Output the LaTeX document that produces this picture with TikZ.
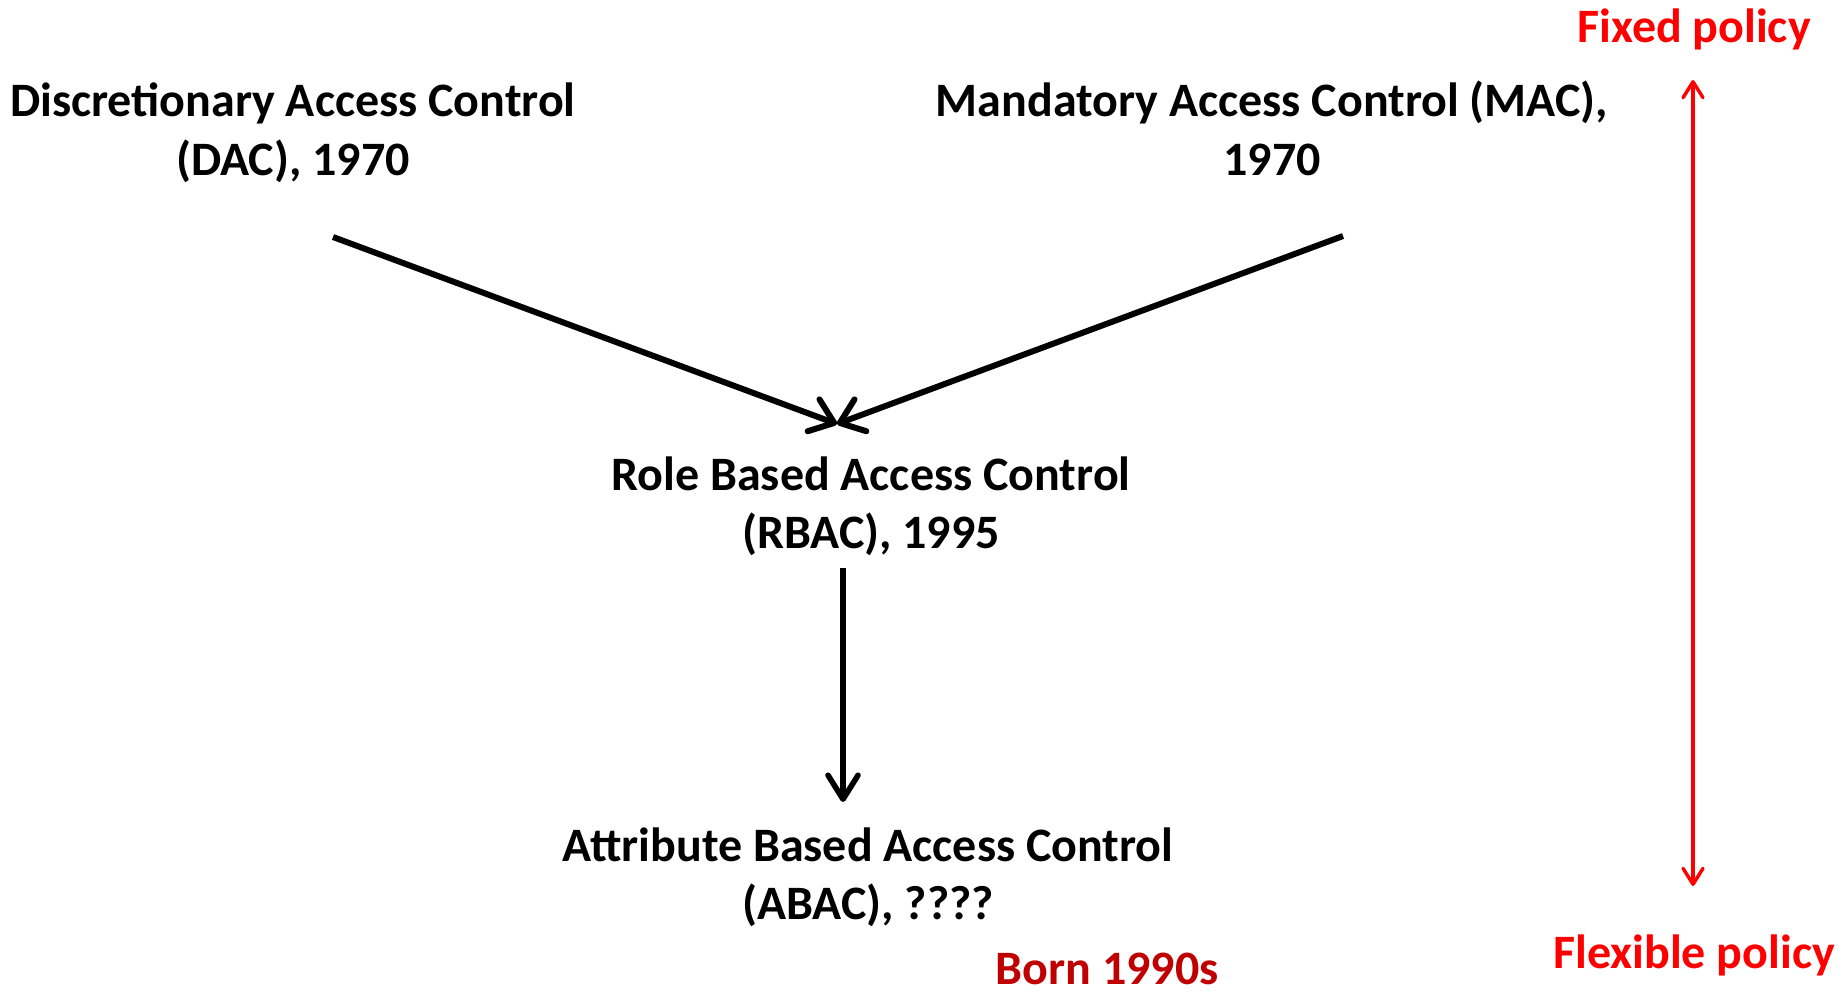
\documentclass[tikz,border=0pt]{standalone}
\usepackage{fontspec}
\setmainfont{Carlito}
\usetikzlibrary{arrows.meta}
\definecolor{polred}{HTML}{FF0000}
\definecolor{bornred}{HTML}{C00000}
\begin{document}
\begin{tikzpicture}[x=0.5pt,y=-0.5pt,
  lbl/.style={anchor=base,inner sep=0pt,font=\fontsize{24}{29.5}\selectfont\bfseries},
  redlbl/.style={lbl,text=polred},
  bornlbl/.style={lbl,text=bornred},
  convarrow/.style={line width=3pt,-{Straight Barb[length=11pt,width=17pt,round]}},
  downarrow/.style={line width=2.8pt,-{Straight Barb[length=12pt,width=15pt,round]}},
  policyarrow/.style={polred,line width=1.7pt,{Straight Barb[length=8pt,width=10pt,round]}-{Straight Barb[length=8pt,width=10pt,round]}}]
\useasboundingbox (0,0) rectangle (1847,993);
% texts
\node[lbl] (dac1) at (293,116) {Discretionary Access Control};
\node[lbl] (dac2) at (293,175) {(DAC), 1970};
\node[lbl] (mac1) at (1272,116) {Mandatory Access Control (MAC),};
\node[lbl] (mac2) at (1272,175) {1970};
\node[lbl] (rbac1) at (871,490) {Role Based Access Control};
\node[lbl] (rbac2) at (871,548) {(RBAC), 1995};
\node[lbl] (abac1) at (868,861) {Attribute Based Access Control};
\node[lbl] (abac2) at (868,919) {(ABAC), ????};
\node[bornlbl] (born) at (1107,984) {Born 1990s};
\node[redlbl] (fixed) at (1694,42) {Fixed policy};
\node[redlbl] (flex) at (1694,968) {Flexible policy};
% connector end points
\coordinate (dacS) at (333,237);
\coordinate (macS) at (1343,236);
\coordinate (rbacIn) at (837,424);
\coordinate (rbacS) at (843,568);
\coordinate (abacIn) at (843,802);
\coordinate (fixT) at (1693,80);
\coordinate (flexT) at (1693,886);
% connectors
\draw[convarrow] (dacS) -- (rbacIn);
\draw[convarrow] (macS) -- (rbacIn);
\draw[downarrow] (rbacS) -- (abacIn);
\draw[policyarrow] (flexT) -- (fixT);
\end{tikzpicture}
\end{document}
